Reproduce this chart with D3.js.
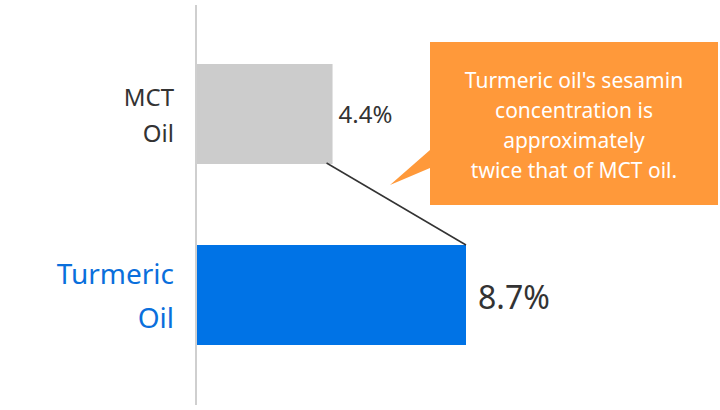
<!DOCTYPE html>
<html><head><meta charset="utf-8">
<script src="https://cdn.jsdelivr.net/npm/d3@7"></script>
<style>body{margin:0;background:#fff}svg{display:block;font-family:"Noto Sans",sans-serif}</style>
</head><body><svg width="720" height="410"></svg>
<script>
const categories = [['MCT', 'Oil'], ['Turmeric', 'Oil']];
const values = [4.4, 8.7];
const valueLabels = ['4.4%', '8.7%'];
const barColors = ['#cccccc', '#0073e6'];
const labelColors = ['#333333', '#0a6fdc'];
const calloutLines = ["Turmeric oil's sesamin", 'concentration is', 'approximately', 'twice that of MCT oil.'];

const svg = d3.select('svg');
const x = d3.scaleLinear().domain([0, 8.7]).range([196, 466]);
const y = d3.scaleBand().domain([0, 1]).range([23, 385]).paddingInner(0.8).paddingOuter(0.2);
// shift so bars land where reference draws them
const yb = i => i === 0 ? 64 : 245;
const bh = 100;

svg.append('line').attr('x1', 196).attr('x2', 196).attr('y1', 5).attr('y2', 405)
    .attr('stroke', '#cfcfcf').attr('stroke-width', 2);

svg.selectAll('rect.bar').data(values).join('rect').attr('class', 'bar')
    .attr('x', x(0) + 1).attr('y', (d, i) => yb(i))
    .attr('width', d => x(d) - x(0) - 1).attr('height', bh)
    .attr('fill', (d, i) => barColors[i]);

svg.append('line').attr('x1', x(values[0]) - 6).attr('y1', yb(0) + bh - 1)
    .attr('x2', x(values[1])).attr('y2', yb(1))
    .attr('stroke', '#333').attr('stroke-width', 1.5);

categories.forEach((lines, i) => {
    const fs = i === 0 ? 24 : 28;
    const t = svg.append('text').attr('text-anchor', 'end').attr('fill', labelColors[i])
        .attr('font-size', fs);
    lines.forEach((l, j) => t.append('tspan').attr('x', 174)
        .attr('y', i === 0 ? 106 + j * 36 : 284 + j * 44).text(l));
});

svg.selectAll('text.val').data(values).join('text').attr('class', 'val')
    .attr('x', d => x(d) + 12 - (d < 5 ? 6 : 0))
    .attr('y', (d, i) => i === 0 ? 123 : 309)
    .attr('font-size', (d, i) => i === 0 ? 24 : 32)
    .attr('fill', '#333').text((d, i) => valueLabels[i]);

svg.append('path').attr('d', 'M430,42H718V205H430V168L390,185L430,150Z').attr('fill', '#ff993a');
svg.append('text').attr('text-anchor', 'middle').attr('fill', '#fff').attr('font-size', 21)
    .selectAll('tspan').data(calloutLines).join('tspan')
    .attr('x', 574).attr('y', (d, i) => 88 + i * 30).text(d => d);
</script></body></html>
